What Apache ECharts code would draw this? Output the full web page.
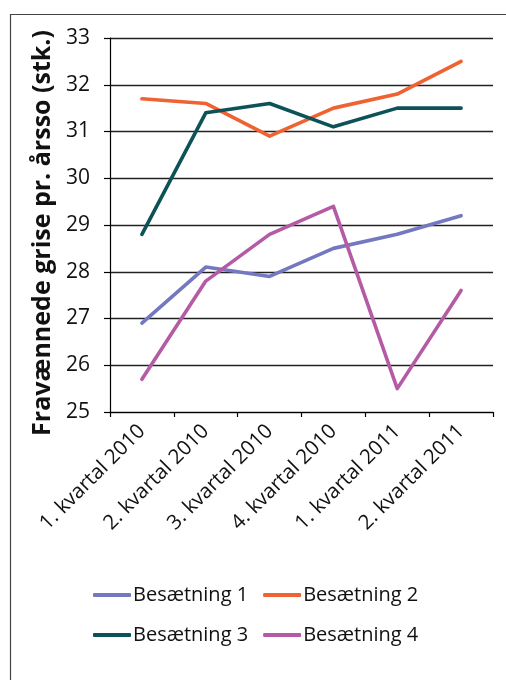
<!DOCTYPE html>
<html>
<head>
<meta charset="utf-8">
<script src="https://cdn.jsdelivr.net/npm/echarts@6/dist/echarts.min.js"></script>
<style>
  html, body { margin: 0; padding: 0; background: #fff; }
  #chart { width: 506px; height: 680px; }
</style>
</head>
<body>
<div id="chart"></div>
<script>
// Quarters shown along the x axis
const categories = ['1. kvartal 2010', '2. kvartal 2010', '3. kvartal 2010', '4. kvartal 2010', '1. kvartal 2011', '2. kvartal 2011'];

// Weaned piglets per sow per year, one list per herd
const besaetning1 = [26.9, 28.1, 27.9, 28.5, 28.8, 29.2];
const besaetning2 = [31.7, 31.6, 30.9, 31.5, 31.8, 32.5];
const besaetning3 = [28.8, 31.4, 31.6, 31.1, 31.5, 31.5];
const besaetning4 = [25.7, 27.8, 28.8, 29.4, 25.5, 27.6];

const seriesNames = ['Besætning 1', 'Besætning 2', 'Besætning 3', 'Besætning 4'];
const seriesData = [besaetning1, besaetning2, besaetning3, besaetning4];
const seriesColors = ['#7478c0', '#ef6231', '#0c5256', '#b55ba6'];

// Value axis range
const yMin = 25;
const yMax = 33;
const yStep = 1;

const FONT = 'Open Sans';

const chart = echarts.init(document.getElementById('chart'), null, { renderer: 'canvas' });

const legendCommon = {
  left: 88,
  orient: 'horizontal',
  itemGap: 15,
  itemWidth: 38,
  itemHeight: 4,
  icon: 'roundRect',
  textStyle: { fontFamily: FONT, fontSize: 20, color: '#111', padding: [0, 0, 0, -3] },
  selectedMode: false
};

chart.setOption({
  animation: false,
  backgroundColor: '#fff',
  graphic: [{
    type: 'rect',
    shape: { x: 10.5, y: 14.5, width: 600, height: 700 },
    style: { fill: 'none', stroke: '#444', lineWidth: 1.2 },
    silent: true
  }],
  grid: { left: 110, right: 13, top: 38, bottom: 268, containLabel: false },
  legend: [
    Object.assign({}, legendCommon, { top: 580, data: [seriesNames[0], seriesNames[1]] }),
    Object.assign({}, legendCommon, { top: 620, data: [seriesNames[2], seriesNames[3]] })
  ],
  xAxis: {
    type: 'category',
    data: categories,
    boundaryGap: true,
    axisLine: { lineStyle: { color: '#000', width: 1.2 } },
    axisTick: { show: true, interval: 0, length: 5, lineStyle: { color: '#000', width: 1.2 } },
    axisLabel: {
      interval: 0,
      rotate: 45,
      margin: 16,
      fontFamily: FONT,
      fontSize: 20.5,
      color: '#111'
    },
    splitLine: { show: false }
  },
  yAxis: {
    type: 'value',
    min: yMin,
    max: yMax,
    interval: yStep,
    name: 'Fravænnede grise pr. årsso (stk.)',
    nameLocation: 'middle',
    nameGap: 52,
    nameTextStyle: { fontFamily: FONT, fontSize: 25, fontWeight: 'bold', color: '#111', padding: [0, 16, 0, 0] },
    axisLine: { show: true, lineStyle: { color: '#000', width: 1.2 } },
    axisTick: { show: true, length: 6, lineStyle: { color: '#000', width: 1.2 } },
    axisLabel: { fontFamily: FONT, fontSize: 21, color: '#111', margin: 20 },
    splitLine: { show: true, lineStyle: { color: '#222', width: 1.3 } }
  },
  series: seriesNames.map((name, i) => ({
    name: name,
    type: 'line',
    data: seriesData[i],
    symbol: 'none',
    color: seriesColors[i],
    lineStyle: { width: 3.6, color: seriesColors[i], cap: 'round', join: 'round' }
  }))
});
</script>
</body>
</html>
